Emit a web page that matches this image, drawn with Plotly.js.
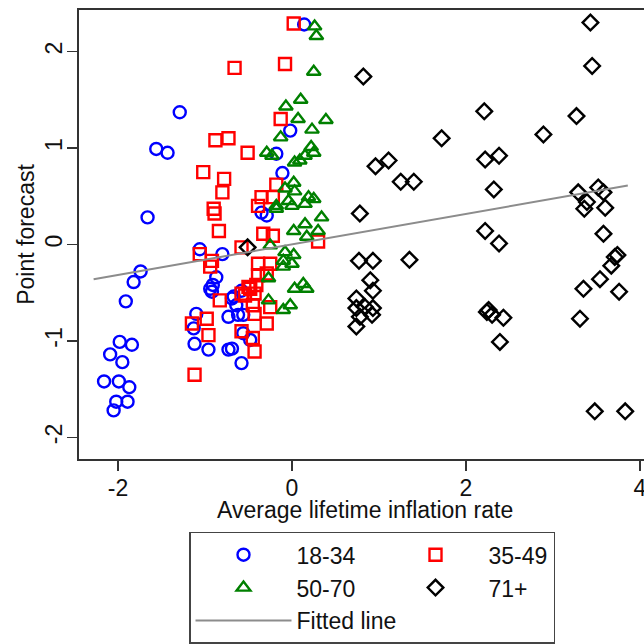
<!DOCTYPE html>
<html>
<head>
<meta charset="utf-8">
<script src="https://cdn.plot.ly/plotly-3.0.1.min.js"></script>
<style>
  html, body { margin: 0; padding: 0; background: #fff; }
  #chart { width: 644px; height: 644px; }
</style>
</head>
<body>
<div id="chart"></div>
<script>
// age group 18-34
const young_x = [-1.29, -1.56, -1.43, -1.66, -1.74, -1.82, -1.91, -1.98, -1.84, -2.09, -1.95, -2.16, -1.99,
    -1.87, -2.02, -1.89, -2.05, -1.06, -0.94, -0.91, -1.10, -1.13, -1.12, -0.96, 0.14, -0.02, -0.18, -0.11,
    -0.29, -0.35, -0.80, -0.87, -0.92, -0.69, -0.64, -0.73, -0.62, -0.73, -0.56, -0.58, -0.67, -0.58, -0.56,
    -0.48, -0.69];
const young_y = [1.37, 0.99, 0.95, 0.28, -0.28, -0.39, -0.59, -1.01, -1.04, -1.14, -1.22, -1.42, -1.42,
    -1.48, -1.63, -1.63, -1.72, -0.05, -0.46, -0.42, -0.72, -0.87, -1.03, -1.09, 2.28, 1.18, 0.94, 0.74,
    0.30, 0.33, -0.10, -0.34, -0.49, -0.56, -0.63, -0.75, -0.73, -1.09, -0.92, -1.23, -0.54, -0.48, -0.73,
    -0.99, -1.08];

// age group 35-49
const mid_x = [0.02, -0.66, -0.08, -0.13, -0.88, -0.73, -0.51, -1.02, -0.78, -0.80, -0.18, -0.35, -0.22,
    -0.90, -0.39, -0.89, -0.84, -0.33, -0.22, 0.30, -0.58, -1.06, -0.92, -0.94, -0.39, -0.25, -0.39, -0.29,
    -0.48, -0.43, -0.58, -0.83, -0.45, -0.25, -0.43, -0.29, -1.15, -0.98, -0.96, -0.58, -0.45, -0.43, -1.12,
    -0.50, -0.41, -0.54];
const mid_y = [2.29, 1.83, 1.87, 1.30, 1.08, 1.10, 0.95, 0.75, 0.68, 0.54, 0.62, 0.49, 0.49,
    0.37, 0.40, 0.32, 0.14, 0.11, 0.09, 0.03, -0.03, -0.10, -0.17, -0.23, -0.20, -0.20, -0.32, -0.30,
    -0.46, -0.51, -0.51, -0.58, -0.63, -0.65, -0.72, -0.82, -0.82, -0.77, -0.94, -0.90, -0.97, -1.11, -1.35,
    -0.44, -0.42, -0.53];

// age group 50-70
const old_x = [0.26, 0.28, 0.25, -0.07, 0.10, 0.07, 0.39, 0.23, -0.13, -0.29, -0.23, 0.22, 0.15, 0.25,
    0.03, 0.09, 0.02, -0.08, 0.03, 0.19, 0.25, -0.18, -0.04, -0.18, 0.00, 0.15, 0.34, 0.15, 0.02, 0.17,
    0.30, -0.25, -0.08, -0.10, 0.00, -0.10, 0.02, -0.27, 0.13, 0.03, 0.17, -0.27, -0.02, -0.10];
const old_y = [2.26, 2.16, 1.79, 1.43, 1.50, 1.30, 1.29, 1.19, 1.11, 0.95, 0.92, 1.01, 0.92, 0.95,
    0.85, 0.87, 0.64, 0.58, 0.55, 0.49, 0.47, 0.40, 0.45, 0.37, 0.40, 0.42, 0.28, 0.21, 0.14, 0.08,
    0.14, -0.01, -0.08, -0.17, -0.20, -0.23, -0.11, -0.35, -0.41, -0.46, -0.46, -0.58, -0.63, -0.68];

// age group 71+
const eldest_x = [0.82, 2.21, 1.72, 0.96, 1.11, 1.25, 1.40, 2.22, 2.38, 2.32, 0.78, 2.22, 2.38, 0.77,
    0.93, 1.35, 0.90, 0.93, 0.74, 0.84, 0.74, 0.93, 0.92, 0.78, 0.74, 2.24, 2.30, 2.43, 2.39, 3.43,
    3.45, 3.27, 2.89, 3.29, 3.52, 3.58, 3.39, 3.36, 3.60, 3.58, 3.71, 3.74, 3.67, 3.54, 3.35, 3.76,
    3.31, 3.48, 3.83, -0.51, 2.26];
const eldest_y = [1.74, 1.38, 1.10, 0.81, 0.87, 0.65, 0.65, 0.88, 0.92, 0.57, 0.32, 0.14, 0.01, -0.17,
    -0.17, -0.16, -0.37, -0.48, -0.56, -0.65, -0.66, -0.66, -0.73, -0.75, -0.85, -0.70, -0.73, -0.76, -1.01, 2.30,
    1.85, 1.33, 1.14, 0.54, 0.59, 0.54, 0.44, 0.37, 0.38, 0.11, -0.13, -0.11, -0.22, -0.36, -0.46, -0.49,
    -0.77, -1.73, -1.73, -0.03, -0.68];

// fitted line end points
const fit_x = [-2.28, 3.86];
const fit_y = [-0.36, 0.61];

const x_ticks = [-2, 0, 2, 4];
const y_ticks = [-2, -1, 0, 1, 2];

const FONT = 'Liberation Sans, Arial, sans-serif';

function group_trace(name, x, y, symbol, color, size, legend_w) {
    return {
        x: x,
        y: y,
        name: name,
        type: 'scatter',
        mode: 'markers',
        legendwidth: legend_w,
        marker: {symbol: symbol, size: size, color: color, line: {width: 2.4, color: color}},
    };
}

// left legend column needs a wide entry so the legend wraps after two items
let traces = [
    group_trace('18-34', young_x, young_y, 'circle-open', '#0000ff', 12, 81),
    group_trace('35-49', mid_x, mid_y, 'square-open', '#ff0000', 12, 60),
    group_trace('50-70', old_x, old_y, 'triangle-up-open', '#008000', 12, 81),
    group_trace('71+', eldest_x, eldest_y, 'diamond-open', '#000000', 12, 60),
    {
        x: fit_x,
        y: fit_y,
        name: 'Fitted line',
        type: 'scatter',
        mode: 'lines',
        legendwidth: 81,
        line: {color: '#8c8c8c', width: 2},
    },
];

let axis_common = {
    showgrid: false,
    zeroline: false,
    showline: true,
    linecolor: '#333333',
    linewidth: 2,
    ticks: 'outside',
    ticklen: 10,
    tickwidth: 1.5,
    tickcolor: '#333333',
    ticklabeloverflow: 'allow',
    tickfont: {family: FONT, size: 23, color: '#111111'},
};

let layout = {
    width: 644,
    height: 644,
    margin: {l: 79, r: 0, t: 10, b: 183},
    paper_bgcolor: '#ffffff',
    plot_bgcolor: '#ffffff',
    font: {family: FONT, size: 23, color: '#111111'},
    showlegend: true,
    hovermode: false,
    xaxis: {
        ...axis_common,
        mirror: true,
        range: [-2.448, 4.046],
        tickvals: x_ticks,
        ticktext: x_ticks.map(String),
        ticklabelstandoff: -3,
    },
    yaxis: {
        ...axis_common,
        range: [-2.224, 2.43],
        tickvals: y_ticks,
        ticktext: y_ticks.map(String),
        tickangle: -90,
        ticklabelstandoff: -4,
        title: {text: 'Point forecast', font: {family: FONT, size: 23, color: '#111111'}, standoff: 0},
    },
    // x axis title sits tight under the tick labels, closer than the axis title allows
    annotations: [{
        text: 'Average lifetime inflation rate',
        xref: 'paper', yref: 'paper',
        x: 0.507, y: -0.114,
        xanchor: 'center', yanchor: 'middle',
        showarrow: false,
        font: {family: FONT, size: 23, color: '#111111'},
    }],
    legend: {
        orientation: 'h',
        x: 0.1947,
        xanchor: 'left',
        y: -0.162,
        yanchor: 'top',
        itemwidth: 96,
        bordercolor: '#444444',
        borderwidth: 1.5,
        bgcolor: '#ffffff',
        font: {family: FONT, size: 23, color: '#111111'},
    },
};

Plotly.newPlot('chart', traces, layout, {staticPlot: true, displayModeBar: false});
</script>
</body>
</html>
